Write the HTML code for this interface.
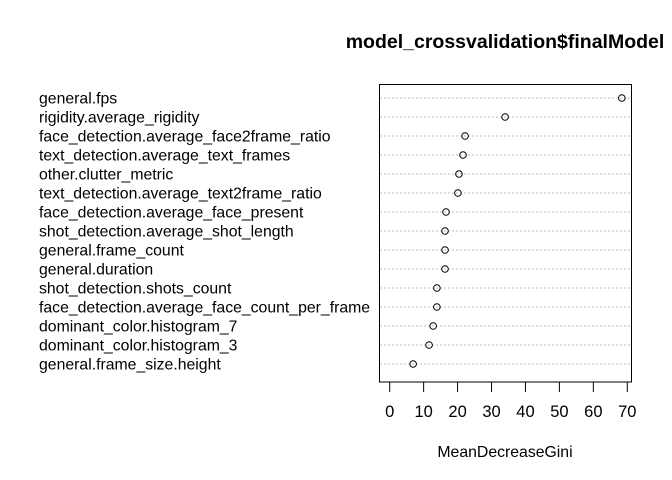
<!DOCTYPE html>
<html><head><meta charset="utf-8"><style>body{margin:0;background:#fff}svg{display:block;font-family:"Liberation Sans",Arial,sans-serif}</style></head>
<body>
<svg id="chart" width="672" height="480">
<text x="505" y="48" text-anchor="middle" font-size="19.5" font-weight="bold">model_crossvalidation$finalModel</text>
<rect x="379.5" y="84.5" width="252" height="297.5" fill="none" stroke="#000"/>
<text x="505" y="457" text-anchor="middle" font-size="15.8">MeanDecreaseGini</text>
<g id="marks"></g>
</svg>
<script>
const labels=["general.fps","rigidity.average_rigidity","face_detection.average_face2frame_ratio","text_detection.average_text_frames","other.clutter_metric","text_detection.average_text2frame_ratio","face_detection.average_face_present","shot_detection.average_shot_length","general.frame_count","general.duration","shot_detection.shots_count","face_detection.average_face_count_per_frame","dominant_color.histogram_7","dominant_color.histogram_3","general.frame_size.height"];
const values=[68.4,34.0,22.2,21.6,20.4,20.1,16.6,16.3,16.3,16.3,13.9,13.9,12.8,11.6,6.9];
const ticks=[0,10,20,30,40,50,60,70];
const NS="http://www.w3.org/2000/svg";
const g=document.getElementById('marks');
const x=v=>389.7+v*3.394;
const y=i=>98+i*19;
function mk(t,a){const e=document.createElementNS(NS,t);for(const k in a)e.setAttribute(k,a[k]);g.appendChild(e);return e;}
labels.forEach((l,i)=>{
 const ln=mk('line',{x1:380,x2:631,y1:y(i),y2:y(i),stroke:'#bebebe','stroke-dasharray':'2,2'});
 
 
 const t=mk('text',{x:39,y:y(i)+5.5,'font-size':15.8});t.textContent=l;
 
 
 const c=mk('circle',{cx:x(values[i]),cy:y(i),r:3.3,fill:'none',stroke:'#000'});
 
 
});
ticks.forEach(v=>{
 const tl=mk('line',{x1:x(v),x2:x(v),y1:382,y2:392,stroke:'#000'});
 
 
 const tt=mk('text',{x:x(v),y:417,'text-anchor':'middle','font-size':16.5});tt.textContent=v;
 
 
});
</script>
</body></html>
